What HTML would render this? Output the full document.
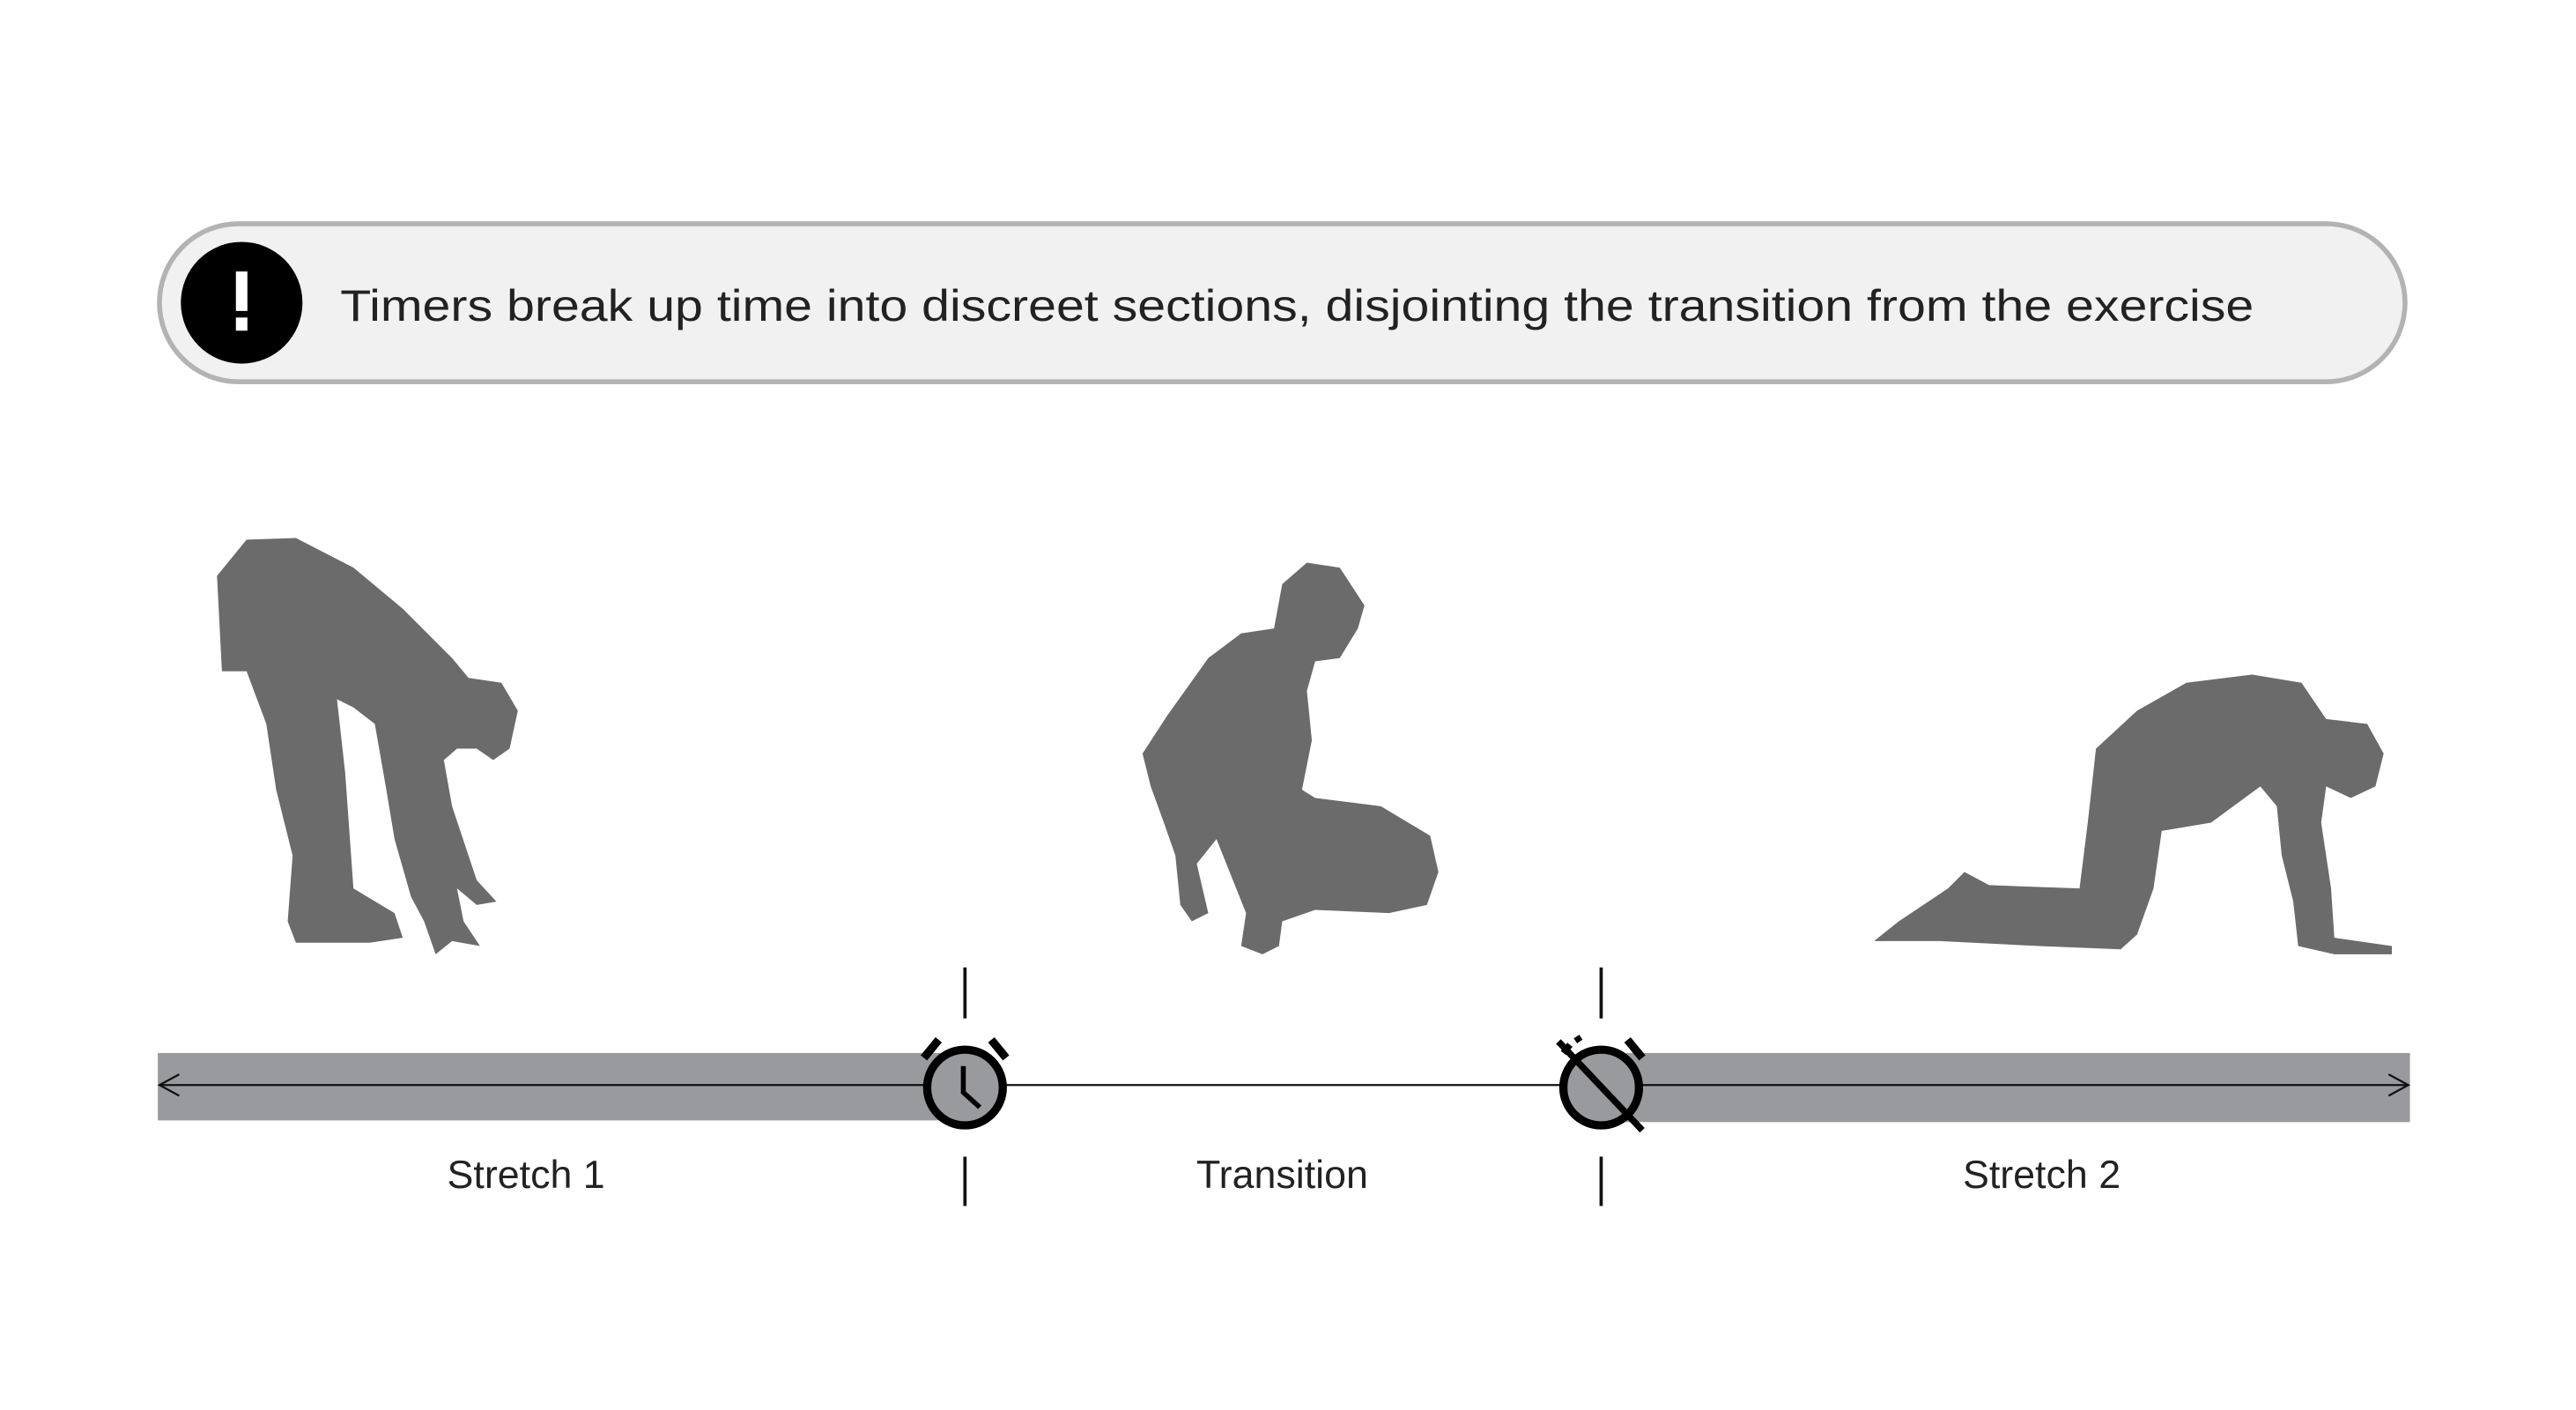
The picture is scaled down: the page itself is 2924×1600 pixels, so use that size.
<!DOCTYPE html>
<html><head><meta charset="utf-8"><style>
html,body{margin:0;padding:0;background:#fff;}
svg{display:block;}
</style></head><body>
<svg width="2924" height="1600" viewBox="0 0 1567 857" preserveAspectRatio="none" xmlns="http://www.w3.org/2000/svg">
<rect x="0" y="0" width="1567" height="857" fill="#fff"/>
<!-- banner -->
<rect x="97" y="136" width="1366" height="96" rx="48" fill="#f1f1f1" stroke="#b3b3b3" stroke-width="3"/>
<circle cx="147" cy="184" r="37" fill="#000"/>
<rect x="143.5" y="165" width="7" height="24" fill="#fff"/>
<rect x="143.5" y="193" width="7" height="8" fill="#fff"/>
<text x="207" y="195" font-family="Liberation Sans, sans-serif" font-size="27" fill="#222" textLength="1164" lengthAdjust="spacingAndGlyphs">Timers break up time into discreet sections, disjointing the transition from the exercise</text>

<!-- silhouettes -->
<g fill="#6b6b6b">
<polygon points="132,350 150,328 180,327 215,345 245,370 275,400 285,412 305,415 315,432 310,455 300,462 290,455 278,455 270,462 275,490 290,535 302,548 290,550 278,540 282,560 292,575 275,572 265,580 258,560 250,545 240,510 235,480 228,440 215,430 205,425 210,470 215,540 240,555 245,570 225,573 180,573 175,560 178,520 168,480 162,440 150,408 135,408"/>
<polygon points="780,355 795,342 815,345 830,368 826,382 815,400 800,402 795,420 798,450 792,480 800,485 840,490 870,508 875,530 868,550 845,555 800,553 780,560 778,575 768,580 755,575 758,555 748,530 740,510 728,525 735,555 725,560 718,550 715,520 708,500 700,478 695,458 710,435 735,400 755,385 775,382"/>
<polygon points="1275,455 1300,432 1330,415 1370,410 1400,415 1415,437 1440,440 1450,458 1445,478 1430,485 1415,478 1412,500 1418,540 1420,570 1455,575 1455,580 1420,580 1398,575 1395,548 1388,520 1385,490 1375,478 1345,500 1315,505 1310,540 1300,568 1290,577 1240,575 1180,572 1140,572 1155,560 1185,540 1195,530 1210,538 1265,540 1270,500"/>
</g>

<!-- bars -->
<rect x="96" y="640" width="491" height="41" fill="#999a9e"/>
<rect x="975" y="640" width="491" height="42" fill="#999a9e"/>
<line x1="97" y1="659.5" x2="1465" y2="659.5" stroke="#111" stroke-width="1.2"/>
<polyline points="109,653 97,659.5 109,666" fill="none" stroke="#111" stroke-width="1.2"/>
<polyline points="1453,653 1465,659.5 1453,666" fill="none" stroke="#111" stroke-width="1.2"/>

<!-- ticks -->
<g stroke="#111" stroke-width="2">
<line x1="587" y1="588" x2="587" y2="619"/>
<line x1="587" y1="703" x2="587" y2="733"/>
<line x1="974" y1="588" x2="974" y2="619"/>
<line x1="974" y1="703" x2="974" y2="733"/>
</g>

<!-- clock 1 -->
<g>
<circle cx="587" cy="661" r="23" fill="#999a9e" stroke="#000" stroke-width="5"/>
<polyline points="586,648 586,664 596,673" fill="none" stroke="#000" stroke-width="3"/>
<line x1="562" y1="643" x2="571" y2="632" stroke="#000" stroke-width="5"/>
<line x1="612" y1="643" x2="603" y2="632" stroke="#000" stroke-width="5"/>
</g>
<!-- clock 2 -->
<g>
<circle cx="974" cy="661" r="23" fill="#999a9e" stroke="#000" stroke-width="5"/>
<line x1="999" y1="643" x2="990" y2="632" stroke="#000" stroke-width="5"/>
<line x1="951" y1="640" x2="955" y2="635" stroke="#000" stroke-width="4"/>
<line x1="959" y1="630" x2="961" y2="633" stroke="#000" stroke-width="4"/>
<line x1="948" y1="633" x2="999" y2="687" stroke="#000" stroke-width="4"/>
</g>

<!-- labels -->
<g font-family="Liberation Sans, sans-serif" font-size="24" fill="#222" text-anchor="middle">
<text x="320" y="722">Stretch 1</text>
<text x="780" y="722">Transition</text>
<text x="1242" y="722">Stretch 2</text>
</g>
</svg>
</body></html>
